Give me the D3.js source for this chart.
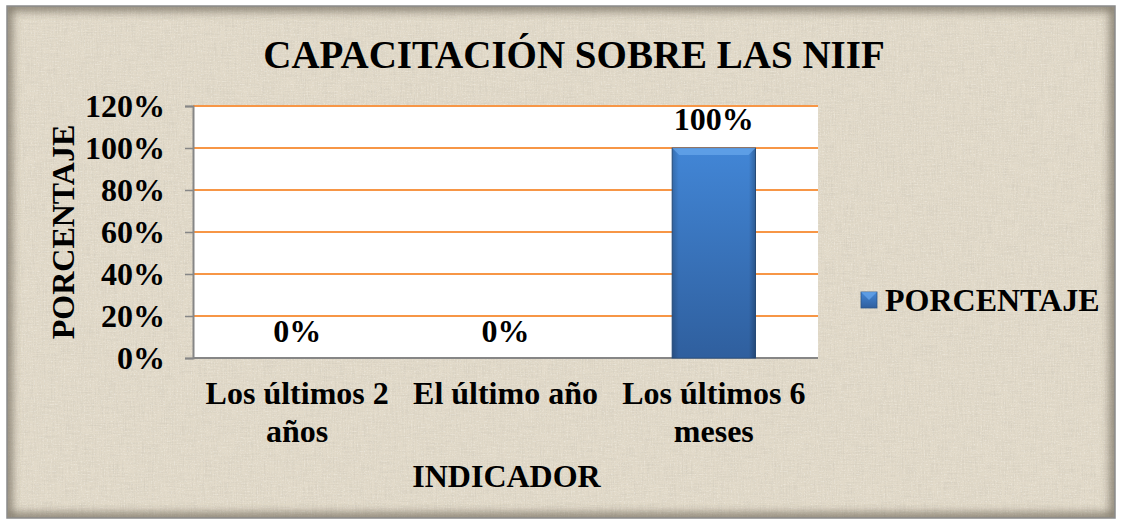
<!DOCTYPE html>
<html>
<head>
<meta charset="utf-8">
<script src="https://cdn.jsdelivr.net/npm/d3@7"></script>
<style>
  body { margin: 0; background: #ffffff; }
  text { font-family: "Liberation Serif", "Times New Roman", serif; font-weight: bold; fill: #000; }
</style>
</head>
<body>
<div id="chart"></div>
<script>
// chart data
var categories = [["Los últimos 2", "años"], ["El último año"], ["Los últimos 6", "meses"]];
var values = [0, 0, 1];
var valueLabels = ["0%", "0%", "100%"];
var yTicks = [0, 0.2, 0.4, 0.6, 0.8, 1.0, 1.2];
var seriesName = "PORCENTAJE";

var W = 1122, H = 523;
var plot = {left: 193, right: 818, top: 106, bottom: 358};

var svg = d3.select("#chart").append("svg")
  .attr("width", W).attr("height", H);

var defs = svg.append("defs");

// burlap-ish texture
var f = defs.append("filter").attr("id", "tex").attr("x", 0).attr("y", 0).attr("width", 1).attr("height", 1);
f.append("feTurbulence").attr("type", "fractalNoise").attr("baseFrequency", "0.9 0.05").attr("numOctaves", 2).attr("seed", 3).attr("result", "n1");
f.append("feTurbulence").attr("type", "fractalNoise").attr("baseFrequency", "0.05 0.9").attr("numOctaves", 2).attr("seed", 7).attr("result", "n2");
f.append("feComposite").attr("in", "n1").attr("in2", "n2").attr("operator", "arithmetic")
  .attr("k1", 0).attr("k2", 0.5).attr("k3", 0.5).attr("k4", 0).attr("result", "n");
f.append("feColorMatrix").attr("in", "n").attr("type", "matrix")
  .attr("values", "0 0 0 0 0.6  0 0 0 0 0.56  0 0 0 0 0.48  1.8 0 0 0 -0.75").attr("result", "c");
f.append("feComposite").attr("in", "c").attr("in2", "SourceGraphic").attr("operator", "in");

var f2 = defs.append("filter").attr("id", "tex2").attr("x", 0).attr("y", 0).attr("width", 1).attr("height", 1);
f2.append("feTurbulence").attr("type", "fractalNoise").attr("baseFrequency", "0.7 0.7").attr("numOctaves", 1).attr("seed", 11).attr("result", "n");
f2.append("feColorMatrix").attr("in", "n").attr("type", "matrix")
  .attr("values", "0 0 0 0 1  0 0 0 0 1  0 0 0 0 0.98  1.8 0 0 0 -0.95").attr("result", "c");
f2.append("feComposite").attr("in", "c").attr("in2", "SourceGraphic").attr("operator", "in");

// inner edge shadow
var vg = defs.append("filter").attr("id", "edge");
vg.append("feGaussianBlur").attr("stdDeviation", 5);

var bg = defs.append("linearGradient").attr("id", "barGrad").attr("x1", 0).attr("y1", 0).attr("x2", 0).attr("y2", 1);
bg.append("stop").attr("offset", "0%").attr("stop-color", "#4286d6");
bg.append("stop").attr("offset", "100%").attr("stop-color", "#2f5f9e");

var sideGrad = defs.append("linearGradient").attr("id", "sideGrad").attr("x1", 0).attr("y1", 0).attr("x2", 1).attr("y2", 0);
sideGrad.append("stop").attr("offset", "0%").attr("stop-color", "#000").attr("stop-opacity", 0.18);
sideGrad.append("stop").attr("offset", "8%").attr("stop-color", "#000").attr("stop-opacity", 0);
sideGrad.append("stop").attr("offset", "92%").attr("stop-color", "#000").attr("stop-opacity", 0);
sideGrad.append("stop").attr("offset", "100%").attr("stop-color", "#000").attr("stop-opacity", 0.25);

// background panel
svg.append("rect").attr("x", 7).attr("y", 6).attr("width", 1108).attr("height", 512)
  .attr("fill", "#e2dac9");
svg.append("rect").attr("x", 7).attr("y", 6).attr("width", 1108).attr("height", 512)
  .attr("fill", "#e2dac9").attr("filter", "url(#tex)").attr("opacity", 0.8);
svg.append("rect").attr("x", 7).attr("y", 6).attr("width", 1108).attr("height", 512)
  .attr("fill", "#e2dac9").attr("filter", "url(#tex2)").attr("opacity", 0.6);
var clip = defs.append("clipPath").attr("id", "panelClip");
clip.append("rect").attr("x", 7).attr("y", 6).attr("width", 1108).attr("height", 512);
svg.append("g").attr("clip-path", "url(#panelClip)")
  .append("rect").attr("x", 7).attr("y", 6).attr("width", 1108).attr("height", 512)
  .attr("fill", "none").attr("stroke", "#6b6455").attr("stroke-width", 9)
  .attr("filter", "url(#edge)").attr("opacity", 0.85);
svg.append("rect").attr("x", 7).attr("y", 6).attr("width", 1108).attr("height", 512)
  .attr("fill", "none").attr("stroke", "#8a8a8a").attr("stroke-width", 1.5);

// scales
var x = d3.scaleBand().domain(d3.range(categories.length))
  .range([plot.left, plot.right]).paddingInner(0.6).paddingOuter(0.3);
var y = d3.scaleLinear().domain([0, 1.2]).range([plot.bottom, plot.top]);

// plot area
svg.append("rect").attr("x", plot.left).attr("y", plot.top)
  .attr("width", plot.right - plot.left).attr("height", plot.bottom - plot.top)
  .attr("fill", "#ffffff");

// gridlines
svg.append("g").selectAll("line").data(yTicks.filter(function(d) { return d > 0; }))
  .enter().append("line")
  .attr("x1", plot.left).attr("x2", plot.right)
  .attr("y1", function(d) { return y(d); }).attr("y2", function(d) { return y(d); })
  .attr("stroke", "#f79646").attr("stroke-width", 2);

// y axis
var yAxis = svg.append("g").attr("transform", "translate(" + plot.left + ",0)")
  .call(d3.axisLeft(y).tickValues(yTicks).tickSize(8).tickPadding(20)
    .tickFormat(function(d) { return Math.round(d * 100) + "%"; }));
yAxis.select(".domain").attr("stroke", "#868686").attr("stroke-width", 2);
yAxis.selectAll(".tick line").attr("stroke", "#868686").attr("stroke-width", 1.5);
yAxis.selectAll(".tick text").attr("font-size", 32).attr("font-family", "Liberation Serif")
  .attr("font-weight", "bold").attr("fill", "#000").attr("dy", "0.33em");

// x axis line
svg.append("line").attr("x1", plot.left).attr("x2", plot.right)
  .attr("y1", plot.bottom).attr("y2", plot.bottom)
  .attr("stroke", "#868686").attr("stroke-width", 2);

// bars
var bars = svg.append("g").selectAll("g").data(values).enter().append("g");
bars.append("rect")
  .attr("x", function(d, i) { return x(i); })
  .attr("y", function(d) { return y(d); })
  .attr("width", x.bandwidth())
  .attr("height", function(d) { return y(0) - y(d); })
  .attr("fill", "url(#barGrad)")
  .attr("stroke", "#2b5588").attr("stroke-width", function(d) { return d > 0 ? 1 : 0; });
bars.append("rect")
  .attr("x", function(d, i) { return x(i); })
  .attr("y", function(d) { return y(d); })
  .attr("width", x.bandwidth())
  .attr("height", function(d) { return y(0) - y(d); })
  .attr("fill", "url(#sideGrad)");
// bevel top
bars.filter(function(d) { return d > 0; }).append("path")
  .attr("d", function(d) {
    var i0 = values.indexOf(d);
    var x0 = x(i0), x1 = x0 + x.bandwidth(), y0 = y(d);
    return "M" + x0 + "," + y0 + "L" + x1 + "," + y0 + "L" + (x1 - 7) + "," + (y0 + 7) + "L" + (x0 + 7) + "," + (y0 + 7) + "Z";
  })
  .attr("fill", "#6aa8ec").attr("opacity", 0.7);

// value labels
svg.append("g").selectAll("text").data(values).enter().append("text")
  .attr("x", function(d, i) { return x(i) + x.bandwidth() / 2; })
  .attr("y", function(d) { return y(d) - (d > 0 ? 18 : 16); })
  .attr("text-anchor", "middle").attr("font-size", 32)
  .text(function(d, i) { return valueLabels[i]; });

// category labels
var cat = svg.append("g").selectAll("text").data(categories).enter().append("text")
  .attr("text-anchor", "middle").attr("font-size", 32)
  .attr("x", function(d, i) { return x(i) + x.bandwidth() / 2; })
  .attr("y", 404);
cat.selectAll("tspan").data(function(d) { return d; }).enter().append("tspan")
  .attr("x", function() { return d3.select(this.parentNode).attr("x"); })
  .attr("dy", function(d, j) { return j === 0 ? 0 : 38; })
  .text(function(d) { return d; });

// titles
svg.append("text").attr("x", 574).attr("y", 68).attr("text-anchor", "middle")
  .attr("font-size", 39).text("CAPACITACIÓN SOBRE LAS NIIF");
svg.append("text").attr("x", (plot.left + plot.right) / 2 + 1).attr("y", 487).attr("text-anchor", "middle")
  .attr("font-size", 32).text("INDICADOR");
svg.append("text").attr("transform", "translate(74,232) rotate(-90)").attr("text-anchor", "middle")
  .attr("font-size", 32).text("PORCENTAJE");

// legend
var lg = svg.append("g").attr("transform", "translate(861,292)");
lg.append("rect").attr("width", 16).attr("height", 16).attr("fill", "url(#barGrad)")
  .attr("stroke", "#2b5588").attr("stroke-width", 0.8);
lg.append("path").attr("d", "M0,0L16,0L8,8Z").attr("fill", "#6aa8ec").attr("opacity", 0.7);
lg.append("text").attr("x", 24).attr("y", 19).attr("font-size", 32).text(seriesName);
</script>
</body>
</html>
